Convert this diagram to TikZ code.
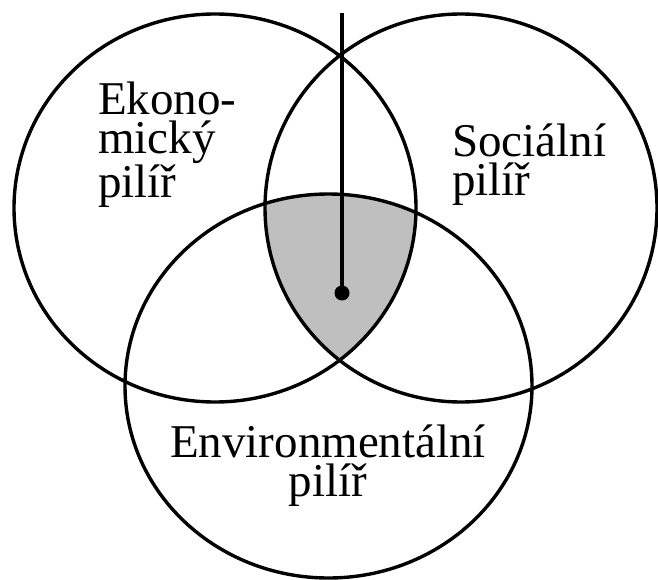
\documentclass[tikz,border=0pt]{standalone}
\usepackage{fontspec}
\setmainfont{Liberation Serif}
\begin{document}
\begin{tikzpicture}[x=1pt,y=-1pt,
  ring/.style={draw=black,line width=3.4pt},
  lbl/.style={inner sep=0pt,font=\fontsize{47}{39}\selectfont},
  shade/.style={fill=black!25}]
\useasboundingbox (0,0) rectangle (658,580);
% shaded intersection of the three pillars
\begin{scope}
  \clip (215,208) ellipse [x radius=201, y radius=194];
  \clip (461,208) ellipse [x radius=196, y radius=194];
  \fill[shade] (328.5,386) ellipse [x radius=203.5, y radius=192];
\end{scope}
% circles
\draw[ring] (215,208) ellipse [x radius=201, y radius=194];
\draw[ring] (461,208) ellipse [x radius=196, y radius=194];
\draw[ring] (328.5,386) ellipse [x radius=203.5, y radius=192];
% line to centre point
\coordinate (top) at (342,13);
\node[circle,fill=black,inner sep=0pt,minimum size=15pt] (dot) at (342,293) {};
\draw[line width=3.2pt] (top) -- (dot.center);
% labels (base anchor = baseline of the last line)
\node[lbl,align=left,anchor=base west] (eko) at (98,197) {Ekono-\\mický\\pilíř};
\node[lbl,align=left,anchor=base west] (soc) at (452,196) {Sociální\\pilíř};
\node[lbl,align=center,anchor=base] (env) at (328,496) {Environmentální\\pilíř};
\end{tikzpicture}
\end{document}
